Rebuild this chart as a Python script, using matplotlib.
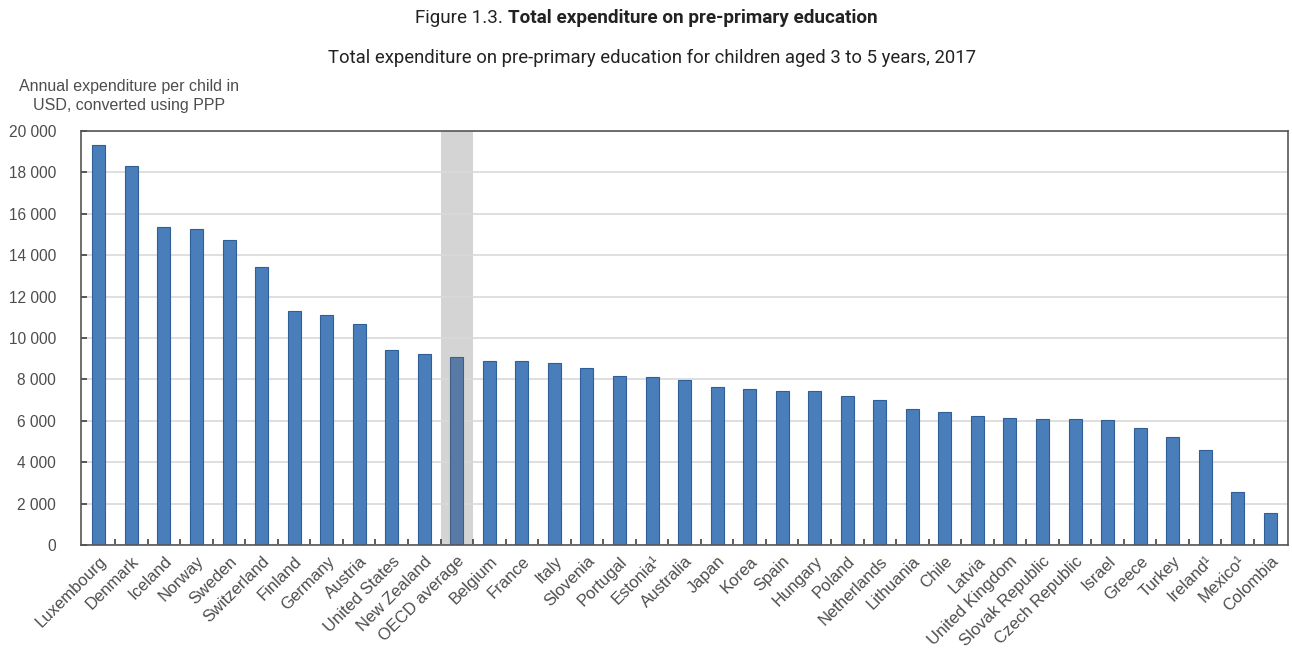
import numpy as np
import matplotlib
matplotlib.use('Agg')
import matplotlib.pyplot as plt

# data
countries = ['Luxembourg', 'Denmark', 'Iceland', 'Norway', 'Sweden', 'Switzerland',
             'Finland', 'Germany', 'Austria', 'United States', 'New Zealand',
             'OECD average', 'Belgium', 'France', 'Italy', 'Slovenia', 'Portugal',
             'Estonia\u00b9', 'Australia', 'Japan', 'Korea', 'Spain', 'Hungary',
             'Poland', 'Netherlands', 'Lithuania', 'Chile', 'Latvia',
             'United Kingdom', 'Slovak Republic', 'Czech Republic', 'Israel',
             'Greece', 'Turkey', 'Ireland\u00b9', 'Mexico\u00b9', 'Colombia']
expenditure = [19310, 18280, 15350, 15270, 14710, 13410,
               11280, 11090, 10690, 9440, 9220,
               9100, 8910, 8900, 8800, 8540, 8170,
               8140, 7980, 7630, 7550, 7440, 7430,
               7200, 6990, 6590, 6440, 6250,
               6120, 6100, 6100, 6060,
               5660, 5220, 4580, 2560, 1570]
y_ticks = [0, 2000, 4000, 6000, 8000, 10000, 12000, 14000, 16000, 18000, 20000]
highlight = 'OECD average'

txt = '#4d4d4d'
blue = '#4a7ebb'

fig = plt.figure(figsize=(12.92, 6.48), dpi=100)
ax = fig.add_axes([0.0627, 0.1585, 0.9343, 0.6398])

x = np.arange(len(countries))
colors = ['#5a7aa6' if c == highlight else blue for c in countries]
edges = ['#3f5f88' if c == highlight else '#2f5f96' for c in countries]
hi = countries.index(highlight)
ax.axvspan(hi - 0.5, hi + 0.5, color='#d4d4d4', zorder=0.5, lw=0)
ax.bar(x, expenditure, width=0.4, color=colors, edgecolor=edges, linewidth=0.8, zorder=2)

ax.set_xlim(-0.55, len(countries) - 0.45)
ax.set_ylim(0, 20000)
ax.set_yticks(y_ticks)
ax.set_yticklabels(['{:,}'.format(v).replace(',', ' ') for v in y_ticks],
                   fontsize=11.2, color=txt, family='Liberation Sans')
ax.yaxis.grid(True, color='#d9d9d9', lw=1.2, zorder=0)
ax.set_axisbelow(True)
ax.tick_params(axis='y', direction='in', length=4, width=1.2, color='#404040', pad=18)

ax.set_xticks(x)
ax.set_xticklabels(countries, rotation=45, ha='right', rotation_mode='anchor',
                   fontsize=12, color=txt, family='Liberation Sans')
ax.tick_params(axis='x', length=0, pad=6)
# small inner ticks between the bars
ax.set_xticks(x[:-1] + 0.5, minor=True)
ax.tick_params(axis='x', which='minor', direction='in', length=4, width=1.2, color='#404040')

for s in ax.spines.values():
    s.set_color('#555555')
    s.set_linewidth(1.2)

fig.text(0.393, 0.972, 'Figure 1.3. ', ha='right', va='center', fontsize=13.6,
         family='Roboto', color='#222222')
fig.text(0.393, 0.972, 'Total expenditure on pre-primary education', ha='left', va='center',
         fontsize=13.6, family='Roboto', fontweight='bold', color='#222222')
fig.text(0.505, 0.91, 'Total expenditure on pre-primary education for children aged 3 to 5 years, 2017',
         ha='center', va='center', fontsize=13.3, family='Roboto', color='#222222')
fig.text(0.100, 0.852, 'Annual expenditure per child in\nUSD, converted using PPP',
         ha='center', va='center', fontsize=11.5, family='Liberation Sans',
         color=txt, linespacing=1.3)

fig.savefig('out.png', dpi=100)
